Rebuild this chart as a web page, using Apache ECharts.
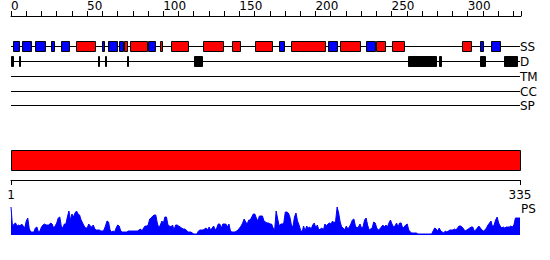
<!DOCTYPE html>
<html>
<head>
<meta charset="utf-8">
<script src="https://cdn.jsdelivr.net/npm/echarts@6/dist/echarts.min.js"></script>
<style>
html,body{margin:0;padding:0;background:#fff;}
#chart{width:550px;height:260px;}
</style>
</head>
<body>
<div id="chart"></div>
<script>
// ---------------- DATA ----------------
const SEQ_LENGTH = 335;
const TRACK_NAMES = ['SS', 'D', 'TM', 'CC', 'SP'];
const TOP_TICK_LABELS = [0, 50, 100, 150, 200, 250, 300];
const BOTTOM_TICK_LABELS = [1, 335];
const PS_LABEL = 'PS';

// secondary structure: helices (red) and strands (blue), residue ranges
const SS_HELIX = [[44,56],[75,77],[79,90],[99,100],[106,117],[127,140],[146,151],[161,172],[185,207],[217,230],[241,246],[251,259],[297,303]];
const SS_STRAND = [[2,6],[8,14],[17,23],[27,29],[34,39],[61,62],[65,70],[72,74],[91,95],[177,180],[209,215],[234,240],[309,311],[316,322]];
// disorder
const DISORDER = [[1,2],[6,6],[58,58],[63,63],[77,77],[121,126],[262,280],[282,283],[309,312],[325,333]];
// empty tracks
const TM = [];
const CC = [];
const SP = [];
// domain bar
const DOMAIN = [[1,335]];

// per-residue PS profile
const PS = [
 28, 8,11,12, 9,10, 9,11, 9, 7,
 14,17, 6, 3, 3, 3, 7, 8, 3, 4,
  8,10,11,10,10,10,12,11, 7, 9,
 12,17,18, 9, 7,11,11,18,24,15,
 21,18,22,24,21,20,15,12, 9, 7,
  7,11, 9, 8,10, 6, 5, 5, 5, 4,
  4, 5, 9,14,13, 5, 3, 4, 3, 7,
 10, 9, 4, 3, 3, 3, 3, 4, 4, 4,
  4, 4, 4, 4, 5, 6, 4, 7, 9, 9,
 10,16,17,19,20,20,12, 7,10,14,
 12,18,18,10, 9, 8,10, 5,10,10,
  9, 8, 7, 6, 6, 5, 3, 3, 3, 2,
  1, 1, 1, 4, 5, 5, 5, 6, 7, 5,
  8, 5, 7, 9, 5, 7,11,11, 7,11,
 11,11, 8,11, 4, 3, 3, 3, 4, 5,
  7, 9,12,16,13,11,15,15,18,21,
 21,17,14,19,19,19,14,13,12,12,
 11,11, 7, 5,24,16, 9,11,11,12,
 23,23,22,18,10, 8,18,22,14,10,
  5, 3, 9, 4, 9, 7, 8, 6,10,12,
  7,10, 5, 6, 7, 5,11, 9,11,12,
 11,14,12,14,28,22,13, 8, 7, 5,
  9, 6, 8,11,15,16, 9, 7, 8,11,
  7, 8,15,17,10, 5, 6, 7,13,12,
  7, 5, 6, 8,10, 8,10, 8,12,15,
 11, 8, 9,12, 8,12,12, 7, 8,10,
 11, 5, 3, 2, 2, 2, 2, 1, 1, 1,
  1, 1, 1, 1, 1, 1, 1, 4, 7, 6,
  4, 7, 4, 3, 2, 4, 3, 4, 5, 5,
  5, 6, 5, 7, 9, 9, 8, 6, 4, 5,
  6, 7, 8, 8, 4, 5, 7, 9, 7, 5,
  4, 5, 7,10,12,14, 8,10,15,18,
 12, 9, 7, 8, 7, 8, 8, 8, 9, 8,
 10,17,17,17,17
];

// ---------------- LAYOUT / STYLE ----------------
const FONT = '12px "DejaVu Sans"';
const ROW_Y = [30, 45, 60, 75, 90];   // track centres (grid units = px below top axis)
const DOMAIN_Y = 145;
const KIND_STYLE = {
  helix:   {fill: '#ff0000', stroke: '#000', half: 5},
  strand:  {fill: '#0000ff', stroke: '#000', half: 5},
  dis:     {fill: '#000000', stroke: '#000', half: 5},
  domain:  {fill: '#ff0000', stroke: '#000', half: 10}
};

const boxData = [];
SS_HELIX.forEach(r => boxData.push([r[0], r[1], ROW_Y[0], 'helix']));
SS_STRAND.forEach(r => boxData.push([r[0], r[1], ROW_Y[0], 'strand']));
DISORDER.forEach(r => boxData.push([r[0], r[1], ROW_Y[1], 'dis']));
TM.forEach(r => boxData.push([r[0], r[1], ROW_Y[2], 'dis']));
CC.forEach(r => boxData.push([r[0], r[1], ROW_Y[3], 'dis']));
SP.forEach(r => boxData.push([r[0], r[1], ROW_Y[4], 'dis']));
DOMAIN.forEach(r => boxData.push([r[0], r[1], DOMAIN_Y, 'domain']));

const trackData = TRACK_NAMES.map((n, i) => [0, SEQ_LENGTH, ROW_Y[i], n]);

const chart = echarts.init(document.getElementById('chart'), null, {renderer: 'svg'});

chart.setOption({
  animation: false,
  backgroundColor: '#fff',
  grid: [
    {left: 11, top: 15, width: 510, height: 160},
    {left: 11, top: 170, width: 509, height: 10},
    {left: 11, top: 205, width: 509, height: 30}
  ],
  xAxis: [
    {
      type: 'value', gridIndex: 0, position: 'top', min: 0, max: SEQ_LENGTH, interval: 10,
      splitLine: {show: false},
      axisLine: {show: true, lineStyle: {color: '#000', width: 1}},
      axisTick: {show: true, length: 5, inside: false, lineStyle: {color: '#000'}},
      axisLabel: {show: true, customValues: TOP_TICK_LABELS, align: 'left', margin: 4,
                  color: '#000', fontFamily: 'DejaVu Sans', fontSize: 12}
    },
    {
      type: 'value', gridIndex: 1, position: 'bottom', min: 1, max: SEQ_LENGTH,
      splitLine: {show: false},
      axisLine: {show: true, lineStyle: {color: '#000', width: 1}},
      axisTick: {show: true, length: 5, customValues: BOTTOM_TICK_LABELS, lineStyle: {color: '#000'}},
      axisLabel: {show: true, customValues: BOTTOM_TICK_LABELS, margin: 9,
                  color: '#000', fontFamily: 'DejaVu Sans', fontSize: 12}
    },
    {
      type: 'value', gridIndex: 2, min: 1, max: SEQ_LENGTH, show: false
    }
  ],
  yAxis: [
    {type: 'value', gridIndex: 0, min: 0, max: 160, inverse: true, show: false},
    {type: 'value', gridIndex: 1, min: 0, max: 1, show: false},
    {type: 'value', gridIndex: 2, min: 0, max: 30, show: false}
  ],
  graphic: [
    {type: 'text', left: 521, top: 203, style: {text: PS_LABEL, font: FONT, fill: '#000'}}
  ],
  series: [
    {
      type: 'custom', xAxisIndex: 0, yAxisIndex: 0, z: 1,
      data: trackData,
      renderItem: function (params, api) {
        const p0 = api.coord([api.value(0), api.value(2)]);
        const p1 = api.coord([api.value(1), api.value(2)]);
        const y = Math.round(p0[1]) + 0.5;
        return {
          type: 'group',
          children: [
            {type: 'line', shape: {x1: p0[0], y1: y, x2: p1[0] - 1, y2: y},
             style: {stroke: '#000', lineWidth: 1}},
            {type: 'text', x: p1[0] - 1, y: y,
             style: {text: api.value(3), font: FONT, fill: '#000', align: 'left', verticalAlign: 'middle'}}
          ]
        };
      }
    },
    {
      type: 'custom', xAxisIndex: 0, yAxisIndex: 0, z: 2,
      data: boxData,
      renderItem: function (params, api) {
        const st = KIND_STYLE[api.value(3)];
        const p0 = api.coord([api.value(0) - 1, api.value(2)]);
        const p1 = api.coord([api.value(1), api.value(2)]);
        const x0 = Math.round(p0[0]) + 0.5;
        const x1 = Math.max(Math.round(p1[0]) - 0.5, x0 + 1);
        const yc = Math.round(p0[1]);
        return {
          type: 'rect',
          shape: {x: x0, y: yc - st.half + 0.5, width: x1 - x0, height: st.half * 2},
          style: {fill: st.fill, stroke: st.stroke, lineWidth: 1}
        };
      }
    },
    {
      type: 'line', xAxisIndex: 2, yAxisIndex: 2, z: 3,
      data: PS.map((v, i) => [i + 1, v]),
      showSymbol: false, symbol: 'none', smooth: false,
      lineStyle: {color: '#0000ff', width: 1},
      areaStyle: {color: '#0000ff', opacity: 1}
    }
  ]
});
</script>
</body>
</html>
